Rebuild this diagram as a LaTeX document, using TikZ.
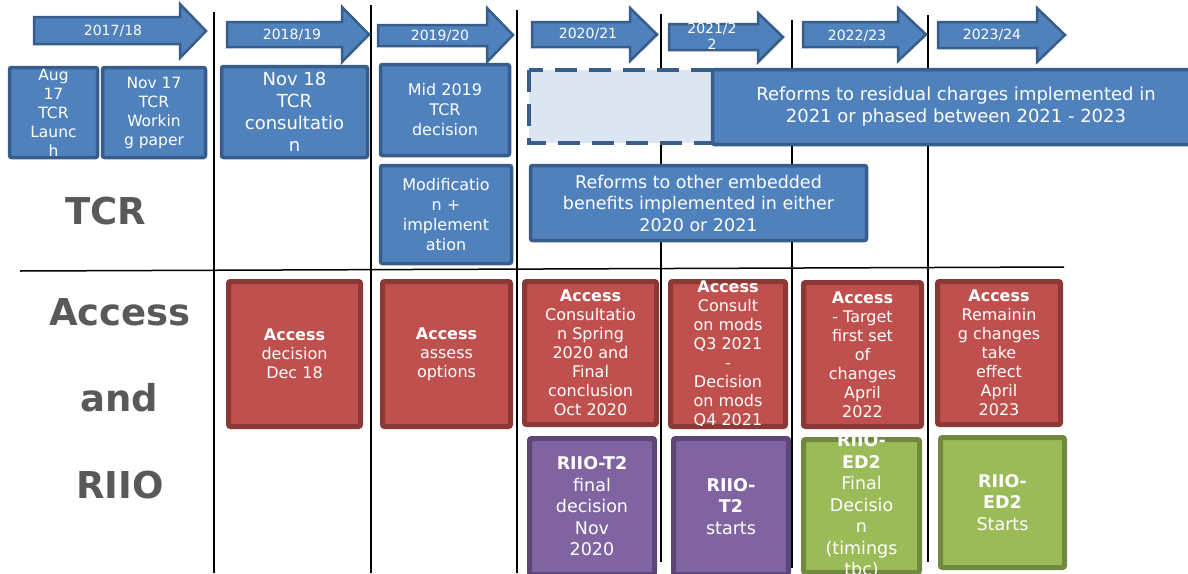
\documentclass[tikz,border=0pt]{standalone}
\usepackage{fontspec}
\setmainfont{DejaVu Sans}
\definecolor{bfill}{HTML}{4F81BD}
\definecolor{bline}{HTML}{385D8A}
\definecolor{lfill}{HTML}{DCE6F2}
\definecolor{rfill}{HTML}{C0504D}
\definecolor{rline}{HTML}{8C3836}
\definecolor{pfill}{HTML}{8064A2}
\definecolor{pline}{HTML}{5C4776}
\definecolor{gfill}{HTML}{9BBB59}
\definecolor{gline}{HTML}{71893F}
\definecolor{lbl}{HTML}{595959}
\newcommand\myfs[2]{\fontsize{#1}{#2}\selectfont}
\begin{document}
\begin{tikzpicture}[x=1pt,y=-1pt,
  gridline/.style={draw=black, line width=1.5pt},
  yarrow/.style={draw=bline, fill=bfill, line width=2.5pt, line join=miter},
  yearlabel/.style={text=white, font=\myfs{14}{16}, align=center, inner sep=0pt},
  boxbase/.style={rounded corners=2pt, text=white, align=center, inner sep=0pt},
  bluebox/.style={boxbase, draw=bline, fill=bfill, line width=3.5pt},
  redbox/.style={boxbase, draw=rline, fill=rfill, line width=5pt, font=\myfs{16}{19}},
  purplebox/.style={boxbase, draw=pline, fill=pfill, line width=5pt, font=\myfs{17.5}{21.5}},
  greenbox/.style={boxbase, draw=gline, fill=gfill, line width=5pt, font=\myfs{17.5}{21.5}},
  boxtext/.style={text=white, align=center, inner sep=0pt},
  dashbox/.style={draw=bline, fill=lfill, line width=4.5pt, dash pattern=on 22pt off 12pt},
  biglabel/.style={text=lbl, font=\bfseries\myfs{37}{40}, inner sep=0pt}
]
\useasboundingbox (0,0) rectangle (1188,573);

% grid lines
\draw[gridline] (214,12) -- (214,573);
\draw[gridline] (371,5) -- (371,573);
\draw[gridline] (517,10) -- (517,573);
\draw[gridline] (661,14) -- (661,562);
\draw[gridline] (792,20) -- (792,568);
\draw[gridline] (928,15) -- (928,562);
\draw[gridline] (20,271) -- (1064,267);

% row labels
\node[biglabel] (tcr) at (106,211) {TCR};
\node[biglabel] (access) at (120,312) {Access};
\node[biglabel] (and) at (119,398) {and};
\node[biglabel] (riio) at (120,485) {RIIO};

% TCR boxes
\node[bluebox, font=\myfs{15.5}{19}, minimum width=88pt, minimum height=90pt] (b1) at (53.5,112.5) {Aug\\17\\TCR\\Launc\\h};
\node[bluebox, font=\myfs{15.5}{19}, minimum width=103pt, minimum height=90pt] (b2) at (154,112.5) {Nov 17\\TCR\\Workin\\g paper};
\node[bluebox, font=\myfs{18}{22}, minimum width=146pt, minimum height=91pt] (b3) at (294.5,112) {Nov 18\\TCR\\consultatio\\n};
\node[bluebox, font=\myfs{16}{20}, minimum width=129pt, minimum height=91pt] (b4) at (445,110) {Mid 2019\\TCR\\decision};
\node[bluebox, font=\myfs{16}{20}, minimum width=131pt, minimum height=98pt] (b5) at (446,214.5) {Modificatio\\n +\\implement\\ation};
\draw[dashbox] (529,70) rectangle (905,143);
\node[bluebox, font=\myfs{18}{22}, minimum width=487pt, minimum height=75pt] (b6) at (956,107) {Reforms to residual charges implemented in\\2021 or phased between 2021 - 2023};
\node[bluebox, font=\myfs{17.5}{21.5}, minimum width=336pt, minimum height=75pt] (b7) at (698.5,203) {Reforms to other embedded\\benefits implemented in either\\2020 or 2021};

% Access boxes
\node[redbox, minimum width=132pt, minimum height=145pt] (r1) at (294.5,354) {\textbf{Access}\\decision\\Dec 18};
\node[redbox, minimum width=128pt, minimum height=145pt] (r2) at (446.5,354) {\textbf{Access}\\assess\\options};
\node[redbox, minimum width=132pt, minimum height=143pt] (r3) at (590.5,353) {\textbf{Access}\\Consultatio\\n Spring\\2020 and\\Final\\conclusion\\Oct 2020};
\node[redbox, minimum width=115pt, minimum height=145pt] (r4) at (728,354) {};
\begin{scope}
  \clip (660,270) rectangle (800,425);
  \node[boxtext, font=\myfs{16}{19}] (r4text) at (r4.center) {\textbf{Access}\\Consult\\on mods\\Q3 2021\\-\\Decision\\on mods\\Q4 2021};
\end{scope}
\node[redbox, minimum width=118pt, minimum height=144pt] (r5) at (862.5,354.5) {\textbf{Access}\\- Target\\first set\\of\\changes\\April\\2022};
\node[redbox, minimum width=123pt, minimum height=143pt] (r6) at (999,353) {\textbf{Access}\\Remainin\\g changes\\take\\effect\\April\\2023};

% RIIO boxes
\node[purplebox, minimum width=125pt, minimum height=136pt] (p1) at (592,506.5) {\textbf{RIIO-T2}\\final\\decision\\Nov\\2020};
\node[purplebox, minimum width=115pt, minimum height=136pt] (p2) at (731,506.5) {\textbf{RIIO-}\\\textbf{T2}\\starts};
\node[greenbox, minimum width=116pt, minimum height=133pt] (g1) at (861.5,506) {};
\begin{scope}
  \clip (795,437) rectangle (930,580);
  \node[boxtext, font=\myfs{17.5}{21.5}] (g1text) at (g1.center) {\textbf{RIIO-}\\\textbf{ED2}\\Final\\Decisio\\n\\(timings\\tbc)};
\end{scope}
\node[greenbox, minimum width=124pt, minimum height=130pt] (g2) at (1002.5,502.5) {\textbf{RIIO-}\\\textbf{ED2}\\Starts};

% year arrows
\draw[yarrow] (34,17) -- (180,17) -- (180,4) -- (206,31) -- (180,58) -- (180,44) -- (34,44) -- cycle;
\draw[yarrow] (227,22) -- (342,22) -- (342,7) -- (369,34.5) -- (342,62) -- (342,47) -- (227,47) -- cycle;
\draw[yarrow] (378,25) -- (487,25) -- (487,8) -- (513,35) -- (487,62) -- (487,46) -- (378,46) -- cycle;
\draw[yarrow] (532,22) -- (630,22) -- (630,8) -- (657,34.5) -- (630,61) -- (630,47) -- (532,47) -- cycle;
\draw[yarrow] (669,24) -- (758,24) -- (758,13) -- (783,37) -- (758,62) -- (758,50) -- (669,50) -- cycle;
\draw[yarrow] (803,22) -- (898,22) -- (898,8) -- (926,34.5) -- (898,61) -- (898,47) -- (803,47) -- cycle;
\draw[yarrow] (938,22) -- (1037,22) -- (1037,8) -- (1065,35) -- (1037,62) -- (1037,48) -- (938,48) -- cycle;
\node[yearlabel] (y1) at (113,31) {2017/18};
\node[yearlabel] (y2) at (292,35) {2018/19};
\node[yearlabel] (y3) at (440,36) {2019/20};
\node[yearlabel] (y4) at (588,34) {2020/21};
\node[yearlabel] (y5) at (712,36) {2021/2\\2};
\node[yearlabel] (y6) at (857,36) {2022/23};
\node[yearlabel] (y7) at (992,35) {2023/24};
\end{tikzpicture}
\end{document}
